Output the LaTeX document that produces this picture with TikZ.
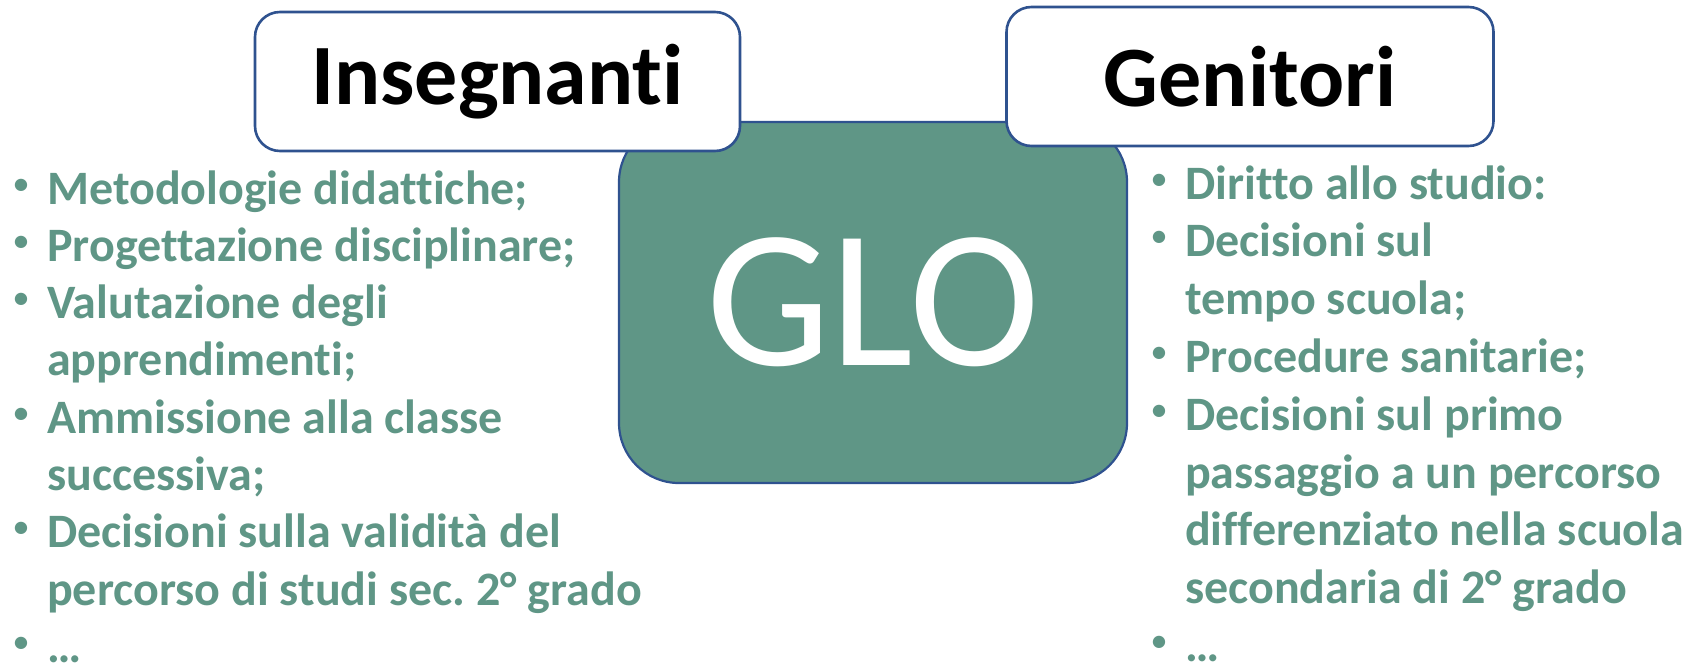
\documentclass[tikz,border=0pt]{standalone}
\usepackage{fontspec}
\setmainfont{Carlito}[Ligatures={NoCommon}]
\definecolor{glogreen}{HTML}{5F9686}
\definecolor{edgeblue}{HTML}{2F528F}
\frenchspacing
\begin{document}
\begin{tikzpicture}[x=1pt,y=-1pt,
  labelbox/.style={draw=edgeblue, line width=2.6pt, fill=white, rounded corners=25pt,
    minimum width=485pt, minimum height=139pt, inner sep=0pt,
    font=\fontsize{86}{90}\selectfont\bfseries, text=black},
  itemtxt/.style={anchor=base west, inner sep=0pt, text=glogreen,
    font=\fontsize{48}{56}\selectfont\bfseries},
  bul/.style={anchor=center, inner sep=0pt, text=glogreen,
    font=\fontsize{29}{30}\selectfont\bfseries}]
\useasboundingbox (0,0) rectangle (1694,667);
% central GLO box
\node[draw=edgeblue, line width=2.2pt, fill=glogreen, rounded corners=60pt,
  minimum width=508pt, minimum height=361pt, inner sep=0pt,
  font=\fontsize{197}{200}\selectfont, text=white] (glo) at (873,302.5) {GLO};
% label boxes
\node[labelbox] (ins) at (497.5,81.5) {Insegnanti};
\node[labelbox, minimum width=487pt] (gen) at (1250,76.5) {Genitori};
% left list
\foreach \i/\t in {1/Metodologie didattiche;,
                   2/Progettazione disciplinare;,
                   3/Valutazione degli,
                   4/apprendimenti;,
                   5/Ammissione alla classe,
                   6/successiva;,
                   7/Decisioni sulla validità del,
                   8/percorso di studi sec. 2° grado}
  \node[itemtxt] (L\i) at (47,{204+57.3*(\i-1)}) {\t};
\node[itemtxt, text depth=0pt, text height=8pt] (L9) at (47,{204+57.3*8}) {…};
\foreach \i in {1,2,3,5,7,9}
  \node[bul] (LB\i) at (21,{186+57.3*(\i-1)}) {•};
% right list
\foreach \i/\t in {1/Diritto allo studio:,
                   2/Decisioni sul,
                   3/tempo scuola;,
                   4/Procedure sanitarie;,
                   5/Decisioni sul primo,
                   6/passaggio a un percorso,
                   7/differenziato nella scuola,
                   8/secondaria di 2° grado}
  \node[itemtxt] (R\i) at (1185,{199+57.8*(\i-1)}) {\t};
\node[itemtxt, text depth=0pt, text height=8pt] (R9) at (1185,{199+57.8*8}) {…};
\foreach \i in {1,2,4,5,9}
  \node[bul] (RB\i) at (1159,{181+57.8*(\i-1)}) {•};
\end{tikzpicture}
\end{document}
